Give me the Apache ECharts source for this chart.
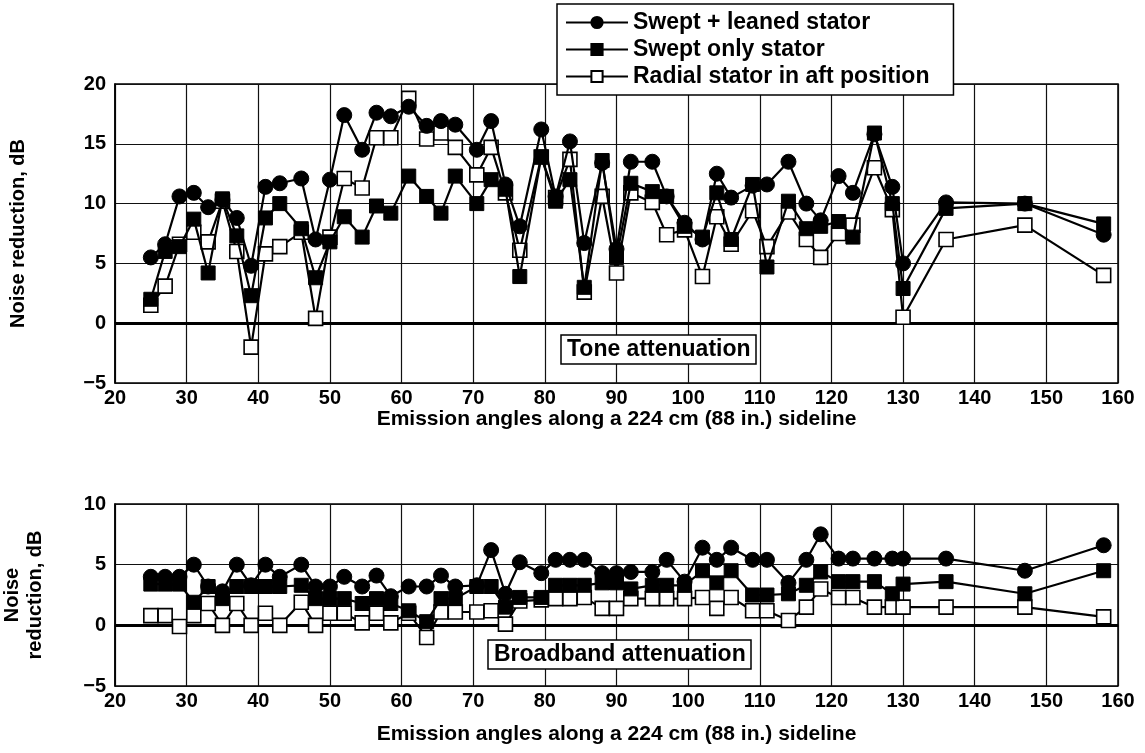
<!DOCTYPE html>
<html>
<head>
<meta charset="utf-8">
<script src="https://cdn.jsdelivr.net/npm/echarts@6/dist/echarts.min.js"></script>
<style>html,body{margin:0;padding:0;background:#fff}#c{width:1145px;height:753px}</style>
</head>
<body>
<div id="c"></div>
<script>
const angles = [25,27,29,31,33,35,37,39,41,43,46,48,50,52,54.5,56.5,58.5,61,63.5,65.5,67.5,70.5,72.5,74.5,76.5,79.5,81.5,83.5,85.5,88,90,92,95,97,99.5,102,104,106,109,111,114,116.5,118.5,121,123,126,128.5,130,136,147,158];

const toneSweptLeaned = [5.5,6.6,10.6,10.9,9.7,10.3,8.8,4.8,11.4,11.7,12.1,7.0,12.0,17.4,14.5,17.6,17.3,18.1,16.5,16.9,16.6,14.5,16.9,11.6,8.1,16.2,10.6,15.2,6.7,13.4,6.2,13.5,13.5,10.6,8.4,7.0,12.5,10.5,11.5,11.6,13.5,10.0,8.6,12.3,10.9,15.8,11.4,5.0,10.1,10.0,7.4];
const toneSweptOnly = [2.0,6.0,6.4,8.7,4.2,10.4,7.3,2.3,8.8,10.0,7.9,3.8,6.8,8.9,7.2,9.8,9.2,12.3,10.6,9.2,12.3,10.0,12.0,11.2,3.9,13.9,10.2,12.0,3.0,13.6,5.5,11.7,11.0,10.6,8.1,7.2,10.9,7.0,11.6,4.7,10.2,7.9,8.1,8.5,7.2,15.9,10.0,2.9,9.6,10.0,8.3];
const toneRadialAft = [1.5,3.1,6.6,7.6,6.8,10.2,6.0,-2.0,5.8,6.4,7.6,0.4,7.2,12.1,11.3,15.5,15.5,18.8,15.4,15.9,14.7,12.4,14.7,10.9,6.1,13.9,10.5,13.7,2.6,10.6,4.2,10.9,10.1,7.4,7.8,3.9,8.9,6.6,9.4,6.4,9.3,7.0,5.5,7.5,8.2,13.0,9.5,0.5,7.0,8.2,4.0];

const bbSweptLeaned = [4.0,4.0,4.0,5.0,3.2,2.8,5.0,3.3,5.0,4.0,5.0,3.2,3.2,4.0,3.2,4.1,2.4,3.2,3.2,4.1,3.2,3.3,6.2,2.6,5.2,4.3,5.4,5.4,5.4,4.3,4.3,4.4,4.4,5.4,3.6,6.4,5.4,6.4,5.4,5.4,3.5,5.4,7.5,5.5,5.5,5.5,5.5,5.5,5.5,4.5,6.6];
const bbSweptOnly = [3.4,3.4,3.4,1.9,3.2,2.2,3.2,3.2,3.2,3.2,3.3,2.2,2.2,2.2,1.8,2.2,1.8,1.2,0.3,2.2,2.2,3.2,3.2,1.5,2.3,2.3,3.3,3.3,3.3,3.5,3.5,3.0,3.3,3.3,3.3,4.5,3.5,4.5,2.5,2.5,2.6,3.3,4.4,3.6,3.6,3.6,2.6,3.4,3.6,2.6,4.5];
const bbRadialAft = [0.8,0.8,-0.1,0.8,1.8,0.0,1.8,0.0,1.0,0.0,1.9,0.0,1.0,1.0,0.2,1.0,0.2,1.0,-1.0,1.1,1.1,1.1,1.2,0.1,2.0,2.1,2.2,2.2,2.3,1.4,1.4,2.2,2.2,2.2,2.2,2.3,1.4,2.3,1.2,1.2,0.4,1.5,3.0,2.3,2.3,1.5,1.5,1.5,1.5,1.5,0.7];

const xTicks = [20,30,40,50,60,70,80,90,100,110,120,130,140,150,160];
const toneYTicks = [-5,0,5,10,15,20];
const bbYTicks = [-5,0,5,10];

const seriesNames = ['Swept + leaned stator','Swept only stator','Radial stator in aft position'];
const xTitle = 'Emission angles along a 224 cm (88 in.) sideline';

function pairs(vals){ return angles.map((a,i)=>[a, vals[i]]); }

const FONT = 'Liberation Sans, Arial, Helvetica, sans-serif';
const lbl = {color:'#000', fontSize:20, fontWeight:'bold', fontFamily:FONT};

function xAxis(gi, gap){
  return {
    type:'value', gridIndex:gi, min:xTicks[0], max:xTicks[xTicks.length-1], interval:10,
    name:xTitle, nameLocation:'middle', nameGap:gap,
    nameTextStyle:{color:'#000', fontSize:21, fontWeight:'bold', fontFamily:FONT},
    axisLine:{show:true, lineStyle:{color:'#000', width:1.5}},
    axisTick:{show:false},
    axisLabel:Object.assign({margin:5}, lbl),
    splitLine:{show:true, lineStyle:{color:'#111', width:1.2}}
  };
}
function yAxis(gi, ticks, name, gap){
  return {
    type:'value', gridIndex:gi, min:ticks[0], max:ticks[ticks.length-1], interval:5,
    name:name, nameLocation:'middle', nameGap:gap, nameRotate:90,
    nameTextStyle:{color:'#000', fontSize:20, fontWeight:'bold', fontFamily:FONT, lineHeight:23},
    axisLine:{show:true, lineStyle:{color:'#000', width:1.5}},
    axisTick:{show:false},
    axisLabel:Object.assign({margin:9, formatter:v=>String(v).replace('-','\u2212')}, lbl),
    splitLine:{show:true, lineStyle:{color:'#111', width:1.2}}
  };
}

const styles = [
  {symbol:'circle', symbolSize:15, itemStyle:{color:'#000', borderColor:'#000', borderWidth:1}},
  {symbol:'rect', symbolSize:14, itemStyle:{color:'#000', borderColor:'#000', borderWidth:1}},
  {symbol:'rect', symbolSize:14, itemStyle:{color:'#fff', borderColor:'#000', borderWidth:1.6}}
];

function mk(name, data, k, gi, withZero){
  const s = {
    name:name, type:'line', xAxisIndex:gi, yAxisIndex:gi, data:pairs(data),
    symbol:styles[k].symbol, symbolSize:styles[k].symbolSize, showSymbol:true,
    itemStyle:styles[k].itemStyle, lineStyle:{color:'#000', width:2.2},
    z: 10 - k, animation:false
  };
  if (withZero) {
    s.markLine = {silent:true, symbol:'none', label:{show:false},
      lineStyle:{color:'#000', width:2.8, type:'solid'}, data:[{yAxis:0}], z:1};
  }
  return s;
}

const chart = echarts.init(document.getElementById('c'), null, {renderer:'canvas'});
chart.setOption({
  backgroundColor:'#fff',
  animation:false,
  title:[
    {text:'Tone attenuation', left:561, top:335, padding:[3,6,3,6], borderColor:'#000', borderWidth:1.5, backgroundColor:'#fff',
      textStyle:{color:'#000', fontSize:23, fontWeight:'bold', fontFamily:FONT}},
    {text:'Broadband attenuation', left:488, top:640, padding:[3,6,3,6], borderColor:'#000', borderWidth:1.5, backgroundColor:'#fff',
      textStyle:{color:'#000', fontSize:23, fontWeight:'bold', fontFamily:FONT}}
  ],
  legend:{
    data:seriesNames, orient:'vertical', left:557, top:4,
    itemWidth:62, itemHeight:14, itemGap:4,
    padding:[7,24,7,8], borderColor:'#000', borderWidth:1.5, backgroundColor:'#fff',
    textStyle:{color:'#000', fontSize:23, fontWeight:'bold', fontFamily:FONT},
    z:20
  },
  grid:[
    {left:115, right:27, top:84, height:299, show:true, borderColor:'#000', borderWidth:1.5, containLabel:false, outerBoundsMode:'none'},
    {left:115, right:27, top:504, height:182, show:true, borderColor:'#000', borderWidth:1.5, containLabel:false, outerBoundsMode:'none'}
  ],
  xAxis:[xAxis(0, 21), xAxis(1, 38)],
  yAxis:[yAxis(0, toneYTicks, 'Noise reduction, dB', 85), yAxis(1, bbYTicks, 'Noise\nreduction, dB', 68)],
  series:[
    mk(seriesNames[2], toneRadialAft, 2, 0, true),
    mk(seriesNames[1], toneSweptOnly, 1, 0, false),
    mk(seriesNames[0], toneSweptLeaned, 0, 0, false),
    mk(seriesNames[2], bbRadialAft, 2, 1, true),
    mk(seriesNames[1], bbSweptOnly, 1, 1, false),
    mk(seriesNames[0], bbSweptLeaned, 0, 1, false)
  ]
});
</script>
</body>
</html>
